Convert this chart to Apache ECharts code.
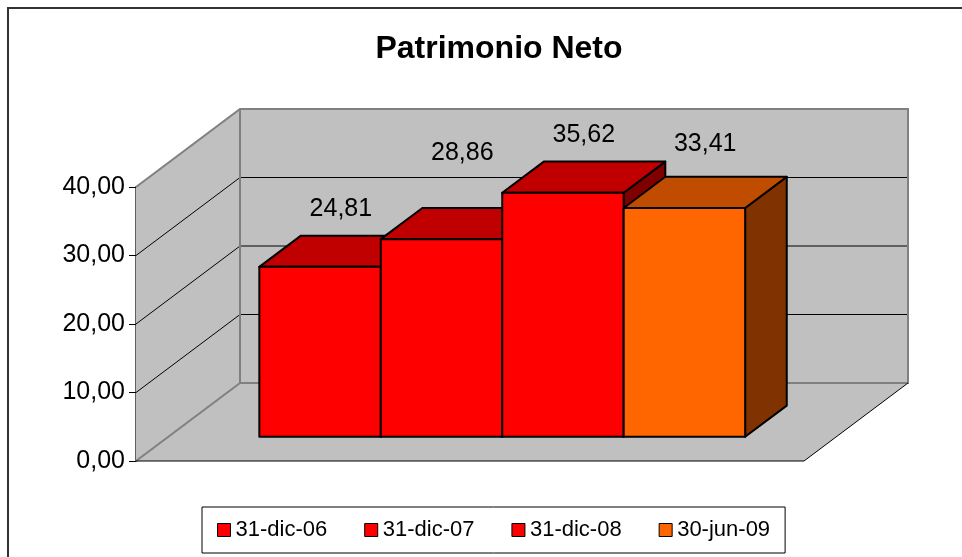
<!DOCTYPE html>
<html><head><meta charset="utf-8">
<script src="https://cdn.jsdelivr.net/npm/echarts@6/dist/echarts.min.js"></script>
<style>html,body{margin:0;padding:0;background:#fff}#c{width:962px;height:557px}</style>
</head><body><div id="c"></div>
<script>
// ---- data ----
const chartTitle = 'Patrimonio Neto';
const dates = ['31-dic-06', '31-dic-07', '31-dic-08', '30-jun-09'];
const values = [24.81, 28.86, 35.62, 33.41];
const yTicks = [0, 10, 20, 30, 40];

// ---- style ----
const faceColors = ['#FF0000', '#FF0000', '#FF0000', '#FF6600'];
const topColors  = ['#C00000', '#C00000', '#C00000', '#C04C00'];
const sideColors = ['#800000', '#800000', '#800000', '#803300'];
const labelLift  = [27, 55, 27, 33];
const DEPTH = [104, -78];
const FRONT = 0.31, BAR_DEPTH = 0.40, GAP = 1.5;
const FONT = '"Liberation Sans", Arial, sans-serif';
const fmt = v => v.toFixed(2).replace('.', ',');

function frame(api) {
  const c0 = api.coord([0, yTicks[0]]);
  const band = api.size([1, 0])[0];
  return { L: c0[0] - band / 2, R: c0[0] + band / 2, y0: c0[1], band: band };
}

function renderBox(params, api) {
  const f = frame(api);
  const dx = DEPTH[0], dy = DEPTH[1];
  const yTop = api.coord([0, yTicks[yTicks.length - 1]])[1];
  const ch = [];
  const wall = { fill: '#C0C0C0' };
  ch.push({ type: 'polygon', shape: { points: [[f.L, f.y0], [f.R, f.y0], [f.R + dx, f.y0 + dy], [f.L + dx, f.y0 + dy]] }, style: wall });
  ch.push({ type: 'polygon', shape: { points: [[f.L, f.y0], [f.L, yTop], [f.L + dx, yTop + dy], [f.L + dx, f.y0 + dy]] }, style: wall });
  ch.push({ type: 'rect', shape: { x: f.L + dx, y: yTop + dy, width: f.R - f.L, height: f.y0 - yTop }, style: wall });
  yTicks.slice(1, -1).forEach(t => {
    const y = api.coord([0, t])[1];
    ch.push({ type: 'line', shape: { x1: f.L, y1: y, x2: f.L + dx, y2: y + dy }, style: { stroke: '#000', lineWidth: 1 } });
    ch.push({ type: 'line', shape: { x1: f.L + dx, y1: y + dy, x2: f.R + dx, y2: y + dy }, style: { stroke: '#000', lineWidth: 1 } });
  });
  ch.push({ type: 'polyline', shape: { points: [[f.L, yTop], [f.L + dx, yTop + dy], [f.R + dx, yTop + dy], [f.R + dx, f.y0 + dy], [f.L + dx, f.y0 + dy], [f.L + dx, yTop + dy]] },
    style: { stroke: '#808080', lineWidth: 2, fill: null } });
  ch.push({ type: 'line', shape: { x1: f.L, y1: f.y0, x2: f.L + dx, y2: f.y0 + dy }, style: { stroke: '#808080', lineWidth: 2 } });
  ch.push({ type: 'polyline', shape: { points: [[f.L, f.y0], [f.R, f.y0], [f.R + dx, f.y0 + dy]] }, style: { stroke: '#000', lineWidth: 1, fill: null } });
  return { type: 'group', children: ch };
}

function makeBar(i) {
  return function (params, api) {
    const f = frame(api);
    const barW = f.band / (dates.length + GAP);
    const ox = DEPTH[0] * FRONT, oy = DEPTH[1] * FRONT;
    const bx = DEPTH[0] * BAR_DEPTH, by = DEPTH[1] * BAR_DEPTH;
    const x1 = f.L + (GAP / 2) * barW + i * barW + ox;
    const x2 = x1 + barW;
    const yb = f.y0 + oy;
    const yt = api.coord([0, api.value(1)])[1] + oy;
    const stroke = { stroke: '#000', lineWidth: 2, lineJoin: 'round' };
    return {
      type: 'group',
      children: [
        { type: 'polygon', shape: { points: [[x2, yb], [x2, yt], [x2 + bx, yt + by], [x2 + bx, yb + by]] }, style: Object.assign({ fill: sideColors[i] }, stroke) },
        { type: 'polygon', shape: { points: [[x1, yt], [x2, yt], [x2 + bx, yt + by], [x1 + bx, yt + by]] }, style: Object.assign({ fill: topColors[i] }, stroke) },
        { type: 'rect', shape: { x: x1, y: yt, width: barW, height: yb - yt }, style: Object.assign({ fill: faceColors[i] }, stroke) },
        { type: 'text', style: { text: fmt(api.value(1)), x: (x1 + x2 + bx) / 2, y: yt + by - labelLift[i], align: 'center', verticalAlign: 'middle', fill: '#000', font: '25px ' + FONT } }
      ]
    };
  };
}

const series = [{
  type: 'custom', name: 'box', silent: true, z: 1,
  data: [[0, 0]], encode: { x: 0, y: 1 }, renderItem: renderBox
}];
dates.forEach((d, i) => {
  series.push({
    type: 'custom', name: d, z: 2 + i,
    itemStyle: { color: faceColors[i] },
    data: [[0, values[i]]], encode: { x: 0, y: 1 },
    renderItem: makeBar(i)
  });
});

const chart = echarts.init(document.getElementById('c'), null, { renderer: 'canvas' });
chart.setOption({
  animation: false,
  backgroundColor: '#fff',
  textStyle: { fontFamily: FONT },
  title: {
    text: chartTitle, left: 494, top: 28, textAlign: 'center',
    textStyle: { fontSize: 32, fontWeight: 'bold', color: '#000', fontFamily: FONT }
  },
  graphic: [{
    type: 'rect', z: -10, silent: true,
    shape: { x: 8, y: 8, width: 1000, height: 600 },
    style: { fill: null, stroke: '#333', lineWidth: 2 }
  }],
  legend: {
    data: dates, left: 202, top: 507, orient: 'horizontal',
    icon: 'rect', itemWidth: 13, itemHeight: 13, itemGap: 37,
    padding: [12, 15], borderColor: '#000', borderWidth: 1,
    itemStyle: { borderColor: '#000', borderWidth: 1 },
    textStyle: { fontSize: 22, color: '#000', fontFamily: FONT }
  },
  grid: { left: 136, top: 187, width: 668, height: 274 },
  xAxis: { type: 'category', data: [chartTitle], show: false },
  yAxis: {
    type: 'value', min: 0, max: 40, interval: 10,
    axisLine: { show: true, lineStyle: { color: '#606060', width: 2 } },
    axisTick: { show: true, length: 7, lineStyle: { color: '#000' } },
    splitLine: { show: false },
    axisLabel: { formatter: v => fmt(v), fontSize: 25, color: '#000', margin: 11, fontFamily: FONT }
  },
  series: series
});
</script>
</body></html>
